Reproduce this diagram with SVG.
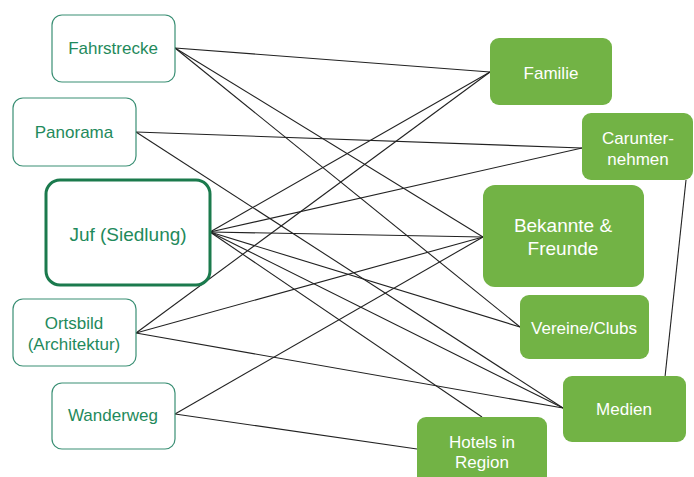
<svg xmlns="http://www.w3.org/2000/svg" width="694" height="477" viewBox="0 0 694 477">
  <style>
    .src rect { fill: #ffffff; stroke: #3a8f74; stroke-width: 1.2; }
    .src text { fill: #1f8a5c; font-family: "Liberation Sans", Arial, sans-serif; font-size: 17px; text-anchor: middle; }
    #juf rect { stroke: #1b7a4d; stroke-width: 3; }
    #juf text { font-size: 19px; }
    .dst rect { fill: #72b345; stroke: none; }
    .dst text { fill: #ffffff; font-family: "Liberation Sans", Arial, sans-serif; font-size: 17px; text-anchor: middle; }
    #bekannte text { font-size: 19px; }
    #links line { stroke: #222222; stroke-width: 1.1; }
  </style>

  <rect width="694" height="477" fill="#ffffff"/>

  <!-- connectors -->
  <g id="links">
    <line x1="175" y1="48" x2="490" y2="72"/>
    <line x1="175" y1="48" x2="483" y2="237"/>
    <line x1="175" y1="48" x2="520" y2="327"/>
    <line x1="136" y1="132" x2="582" y2="148"/>
    <line x1="136" y1="132" x2="563" y2="408"/>
    <line x1="210" y1="232" x2="490" y2="72"/>
    <line x1="210" y1="232" x2="582" y2="148"/>
    <line x1="210" y1="232" x2="483" y2="237"/>
    <line x1="210" y1="232" x2="520" y2="327"/>
    <line x1="210" y1="232" x2="563" y2="408"/>
    <line x1="210" y1="232" x2="482" y2="417"/>
    <line x1="136" y1="333" x2="490" y2="72"/>
    <line x1="136" y1="333" x2="483" y2="237"/>
    <line x1="136" y1="333" x2="563" y2="408"/>
    <line x1="175" y1="414" x2="483" y2="237"/>
    <line x1="175" y1="414" x2="417" y2="449"/>
    <line x1="665" y1="377" x2="686" y2="180"/>
  </g>

  <!-- sources -->
  <g id="fahrstrecke" class="src">
    <rect x="52" y="15" width="123" height="67" rx="10"/>
    <text x="113" y="54">Fahrstrecke</text>
  </g>
  <g id="panorama" class="src">
    <rect x="13" y="98" width="123" height="68" rx="10"/>
    <text x="74" y="138">Panorama</text>
  </g>
  <g id="juf" class="src">
    <rect x="46" y="180" width="164" height="105" rx="14"/>
    <text x="128" y="241">Juf (Siedlung)</text>
  </g>
  <g id="ortsbild" class="src">
    <rect x="13" y="299" width="123" height="67" rx="10"/>
    <text x="74" y="329">Ortsbild</text>
    <text x="74" y="350">(Architektur)</text>
  </g>
  <g id="wanderweg" class="src">
    <rect x="52" y="383" width="123" height="66" rx="10"/>
    <text x="113" y="421">Wanderweg</text>
  </g>

  <!-- targets -->
  <g id="familie" class="dst">
    <rect x="490" y="38" width="122" height="67" rx="9"/>
    <text x="551" y="79">Familie</text>
  </g>
  <g id="carunternehmen" class="dst">
    <rect x="582" y="113" width="111" height="67" rx="9"/>
    <text x="638" y="144">Carunter-</text>
    <text x="638" y="165">nehmen</text>
  </g>
  <g id="bekannte" class="dst">
    <rect x="483" y="185" width="161" height="102" rx="12"/>
    <text x="563" y="232">Bekannte &amp;</text>
    <text x="563" y="255">Freunde</text>
  </g>
  <g id="vereine" class="dst">
    <rect x="520" y="295" width="129" height="64" rx="9"/>
    <text x="584" y="334">Vereine/Clubs</text>
  </g>
  <g id="medien" class="dst">
    <rect x="563" y="376" width="123" height="66" rx="9"/>
    <text x="624" y="415">Medien</text>
  </g>
  <g id="hotels" class="dst">
    <rect x="417" y="417" width="130" height="70" rx="9"/>
    <text x="482" y="448">Hotels in</text>
    <text x="482" y="468">Region</text>
  </g>
</svg>
